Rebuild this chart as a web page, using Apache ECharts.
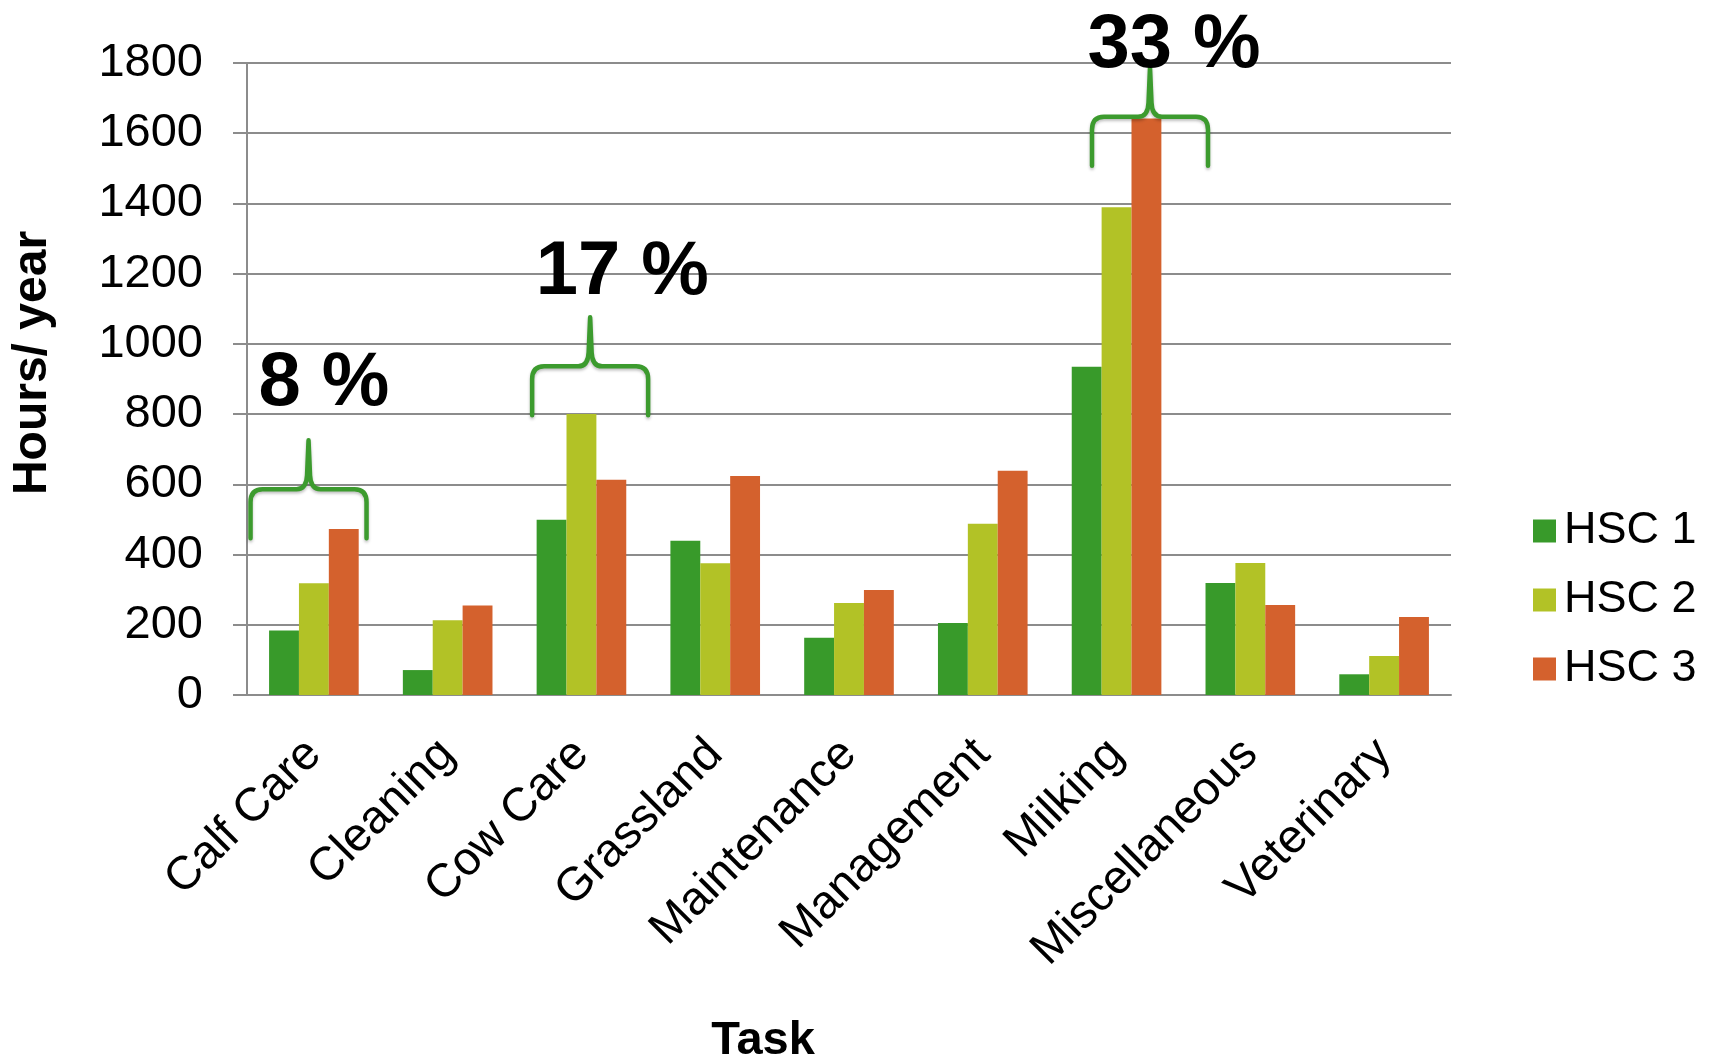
<!DOCTYPE html>
<html>
<head>
<meta charset="utf-8">
<script src="https://cdn.jsdelivr.net/npm/echarts@6/dist/echarts.min.js"></script>
<style>
  html, body { margin: 0; padding: 0; background: #fff; }
  #chart { width: 1720px; height: 1057px; }
</style>
</head>
<body>
<div id="chart"></div>
<script>
// task categories and hours per year for each HSC
const tasks = ['Calf Care', 'Cleaning', 'Cow Care', 'Grassland', 'Maintenance', 'Management', 'Milking', 'Miscellaneous', 'Veterinary'];
const seriesNames = ['HSC 1', 'HSC 2', 'HSC 3'];
const hsc1 = [184, 71, 499, 439, 163, 205, 935, 319, 59];
const hsc2 = [318, 213, 800, 375, 262, 488, 1389, 376, 111];
const hsc3 = [473, 255, 613, 624, 299, 639, 1642, 256, 222];
const yTicks = [0, 200, 400, 600, 800, 1000, 1200, 1400, 1600, 1800];

// brace annotations: task, text, value of the flat brace line, value of the text centre
const noteTasks = ['Calf Care', 'Cow Care', 'Milking'];
const noteTexts = ['8 %', '17 %', '33 %'];
const noteBraceLevels = [586, 936, 1647];
const noteTextLevels = [886, 1202, 1849];

const colors = ['#389A2A', '#B2C226', '#D4612D'];
const gray = '#8c8c8c';
const font = '"Liberation Sans", Arial, sans-serif';

// horizontal shift of brace / text, in category widths
const braceShift = [-0.04, 0.065, 0.25];
const textShift = [0.075, 0.305, 0.43];

let chart = echarts.init(document.getElementById('chart'));

function braceItem(params, api) {
  let i = params.dataIndex;
  let cat = api.value(0);
  let bandW = api.size([1, 0])[0];
  let base = api.coord([cat, api.value(1)]);
  let txt = api.coord([cat, api.value(2)]);
  let cx = base[0] + braceShift[i] * bandW;
  let fy = base[1];
  let w = 58, d = 49;
  let path = 'M' + (cx - w) + ',' + (fy + d)
    + ' L' + (cx - w) + ',' + (fy + 13)
    + ' Q' + (cx - w) + ',' + fy + ' ' + (cx - w + 12) + ',' + fy
    + ' L' + (cx - 12) + ',' + fy
    + ' Q' + (cx - 2) + ',' + fy + ' ' + (cx - 1.5) + ',' + (fy - 14)
    + ' L' + cx + ',' + (fy - d)
    + ' L' + (cx + 1.5) + ',' + (fy - 14)
    + ' Q' + (cx + 2) + ',' + fy + ' ' + (cx + 12) + ',' + fy
    + ' L' + (cx + w - 12) + ',' + fy
    + ' Q' + (cx + w) + ',' + fy + ' ' + (cx + w) + ',' + (fy + 13)
    + ' L' + (cx + w) + ',' + (fy + d);
  return {
    type: 'group',
    children: [
      {
        type: 'path',
        shape: { pathData: path },
        style: {
          fill: null,
          stroke: '#3C9B2E',
          lineWidth: 4.5,
          lineCap: 'round',
          lineJoin: 'round',
          shadowBlur: 3,
          shadowOffsetY: 2,
          shadowColor: 'rgba(0,0,0,0.25)'
        }
      },
      {
        type: 'text',
        style: {
          text: noteTexts[i],
          x: txt[0] + textShift[i] * bandW,
          y: txt[1],
          align: 'center',
          verticalAlign: 'middle',
          fontSize: 76,
          fontWeight: 'bold',
          fontFamily: font,
          fill: '#000'
        }
      }
    ]
  };
}

let barSeries = [hsc1, hsc2, hsc3].map((d, i) => ({
  name: seriesNames[i],
  type: 'bar',
  data: d,
  barGap: '0%',
  barCategoryGap: '33%',
  itemStyle: { color: colors[i] }
}));

let option = {
  animation: false,
  textStyle: { fontFamily: font },
  grid: { left: 247, right: 269, top: 63, bottom: 362, containLabel: false, outerBoundsMode: 'none' },
  legend: {
    orient: 'vertical',
    left: 1528,
    top: 503,
    data: seriesNames,
    icon: 'rect',
    itemWidth: 23,
    itemHeight: 23,
    itemGap: 23,
    textStyle: { fontSize: 45, lineHeight: 46, color: '#000', fontFamily: font, padding: [0, 0, 0, 3] }
  },
  xAxis: {
    type: 'category',
    data: tasks,
    name: 'Task',
    nameLocation: 'middle',
    nameGap: 323,
    nameTextStyle: { fontSize: 47, fontWeight: 'bold', color: '#000', fontFamily: font, padding: [0, 172, 0, 0] },
    axisLine: { lineStyle: { color: gray, width: 2 } },
    axisTick: { length: 14, lineStyle: { color: gray, width: 2 } },
    axisLabel: { rotate: 45, interval: 0, fontSize: 47, color: '#000', margin: 52, fontFamily: font }
  },
  yAxis: {
    type: 'value',
    min: yTicks[0],
    max: yTicks[yTicks.length - 1],
    interval: yTicks[1] - yTicks[0],
    name: 'Hours/ year',
    nameLocation: 'middle',
    nameGap: 190,
    nameTextStyle: { fontSize: 48, fontWeight: 'bold', color: '#000', fontFamily: font, padding: [0, 0, 0, 32] },
    axisLine: { show: true, lineStyle: { color: gray, width: 2 } },
    axisTick: { show: true, length: 14, lineStyle: { color: gray, width: 2 } },
    axisLabel: { fontSize: 47, color: '#000', margin: 44, fontFamily: font, formatter: v => String(v) },
    splitLine: { lineStyle: { color: gray, width: 2 } }
  },
  series: barSeries.concat([{
    name: 'notes',
    type: 'custom',
    clip: false,
    silent: true,
    z: 10,
    renderItem: braceItem,
    data: noteTasks.map((t, i) => [tasks.indexOf(t), noteBraceLevels[i], noteTextLevels[i]])
  }])
};

chart.setOption(option);
</script>
</body>
</html>
